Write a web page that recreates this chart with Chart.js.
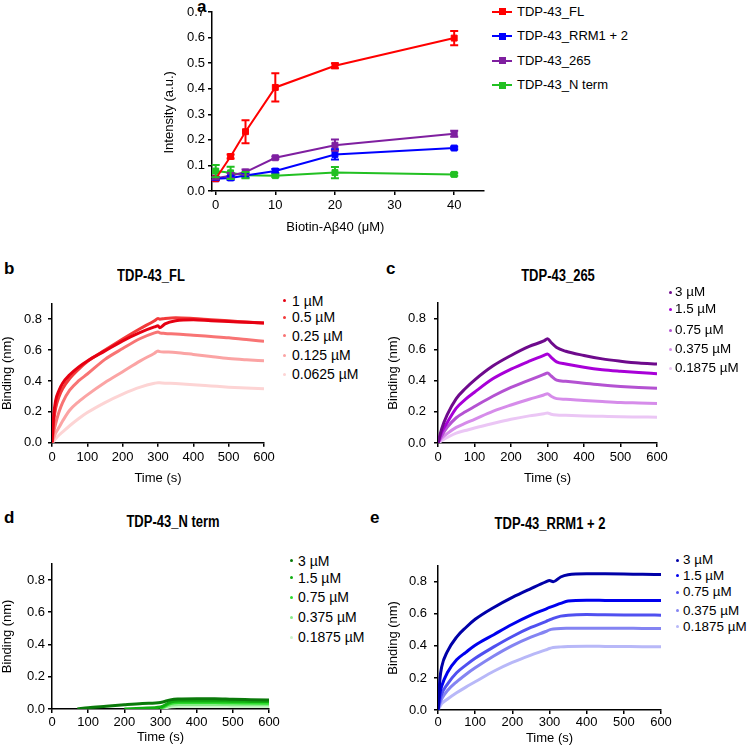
<!DOCTYPE html>
<html>
<head>
<meta charset="utf-8">
<script src="https://cdn.jsdelivr.net/npm/chart.js@4.4.1/dist/chart.umd.min.js"></script>
<style>
  body { margin: 0; background: #fff; }
  #fig { position: relative; width: 748px; height: 752px; overflow: hidden;
         font-family: 'Liberation Sans', Arial, Helvetica, sans-serif; color: #000; }
  #fig canvas { position: absolute; }
  .letter { position: absolute; font-weight: bold; font-size: 17px; line-height: 17px; }
  .ptitle { position: absolute; width: 200px; text-align: center; font-weight: bold;
            font-size: 13px; line-height: 16px; white-space: nowrap; transform: scaleY(1.2); }
  .legtxt { position: absolute; font-size: 14px; line-height: 16px; white-space: nowrap; }
  .legtxt.small { font-size: 13px; }
  .legtxt.mid { font-size: 13.4px; }
  .dot { position: absolute; width: 3px; height: 3px; border-radius: 50%; }
  .lline { position: absolute; width: 20px; height: 2px; }
  .lsq { position: absolute; width: 7px; height: 7px; }
</style>
</head>
<body>
<div id="fig">
  <div class="letter" style="left:197px;top:-2px">a</div>
  <div class="letter" style="left:4px;top:260px">b</div>
  <div class="letter" style="left:386px;top:260px">c</div>
  <div class="letter" style="left:4px;top:509px">d</div>
  <div class="letter" style="left:370px;top:509px">e</div>

  <div class="ptitle" style="left:51px;top:268px">TDP-43_FL</div>
  <div class="ptitle" style="left:458px;top:268px">TDP-43_265</div>
  <div class="ptitle" style="left:73px;top:514px">TDP-43_N term</div>
  <div class="ptitle" style="left:450px;top:516px">TDP-43_RRM1 + 2</div>

  <canvas id="chartA" width="350" height="240" style="left:140px;top:0px"></canvas>
  <canvas id="chartB" width="280" height="200" style="left:0px;top:290px"></canvas>
  <canvas id="chartC" width="290" height="200" style="left:386px;top:287px"></canvas>
  <canvas id="chartD" width="290" height="194" style="left:0px;top:553px"></canvas>
  <canvas id="chartE" width="290" height="195" style="left:386px;top:551px"></canvas>
</div>

<script>
//
// Panel a - pull-down intensity vs Biotin-Abeta40
//
const doses = [0, 2.5, 5, 10, 20, 40];
const doseTicks = [0, 10, 20, 30, 40];
const intensityTicks = [0, 0.1, 0.2, 0.3, 0.4, 0.5, 0.6, 0.7];

const proteinLabels = ['TDP-43_FL', 'TDP-43_RRM1 + 2', 'TDP-43_265', 'TDP-43_N term'];
const proteinColors = ['#ff0000', '#0000ff', '#7f1fa0', '#22c022'];

const intensityFL = [0.048, 0.135, 0.232, 0.405, 0.49, 0.598];
const intensityRRM = [0.048, 0.051, 0.061, 0.078, 0.143, 0.168];
const intensity265 = [0.05, 0.06, 0.074, 0.13, 0.179, 0.224];
const intensityNterm = [0.078, 0.071, 0.062, 0.06, 0.072, 0.065];

const errorFL = [0.006, 0.008, 0.045, 0.055, 0.01, 0.028];
const errorRRM = [0.005, 0.008, 0.008, 0.008, 0.02, 0.005];
const error265 = [0.005, 0.01, 0.01, 0.005, 0.022, 0.012];
const errorNterm = [0.024, 0.024, 0.012, 0.005, 0.022, 0.005];

//
// Panels b-e - binding kinetics
//
const timeTicks = [0, 100, 200, 300, 400, 500, 600];
const bindingTicks = [0, 0.2, 0.4, 0.6, 0.8];

// b: TDP-43_FL
const timesFL = [0, 5, 10, 20, 30, 50, 75, 100, 150, 200, 250, 290, 300, 305, 320, 350, 400, 450, 500, 550, 600];
const concFL = ['1 µM', '0.5 µM', '0.25 µM', '0.125 µM', '0.0625 µM'];
const colorsFL = ['#e60012', '#f23a3a', '#f87474', '#fba4a4', '#fdd4d4'];
const flConc1 = [0, 0.18, 0.27, 0.34, 0.385, 0.44, 0.49, 0.53, 0.595, 0.66, 0.715, 0.75, 0.757, 0.745, 0.77, 0.79, 0.797, 0.79, 0.785, 0.78, 0.775];
const flConc2 = [0, 0.14, 0.22, 0.3, 0.35, 0.415, 0.475, 0.525, 0.6, 0.672, 0.74, 0.79, 0.805, 0.8, 0.805, 0.81, 0.805, 0.797, 0.79, 0.782, 0.775];
const flConc3 = [0, 0.07, 0.12, 0.2, 0.26, 0.34, 0.4, 0.445, 0.54, 0.61, 0.675, 0.712, 0.718, 0.712, 0.708, 0.705, 0.696, 0.688, 0.68, 0.668, 0.658];
const flConc4 = [0, 0.03, 0.06, 0.1, 0.14, 0.21, 0.265, 0.31, 0.39, 0.46, 0.53, 0.58, 0.594, 0.59, 0.588, 0.585, 0.572, 0.558, 0.545, 0.537, 0.531];
const flConc5 = [0, 0.01, 0.025, 0.05, 0.07, 0.11, 0.155, 0.195, 0.26, 0.315, 0.36, 0.385, 0.389, 0.388, 0.386, 0.383, 0.376, 0.368, 0.36, 0.354, 0.35];

// c: TDP-43_265
const times265 = [0, 10, 25, 50, 75, 100, 150, 200, 250, 290, 300, 310, 325, 350, 400, 450, 500, 550, 600];
const conc265 = ['3 µM', '1.5 µM', '0.75 µM', '0.375 µM', '0.1875 µM'];
const colors265 = ['#6e0a8c', '#a800d8', '#b452d2', '#d68cea', '#ebc6f5'];
const c265a = [0, 0.09, 0.18, 0.285, 0.35, 0.404, 0.494, 0.562, 0.62, 0.655, 0.669, 0.645, 0.613, 0.589, 0.562, 0.54, 0.525, 0.513, 0.507];
const c265b = [0, 0.07, 0.13, 0.224, 0.28, 0.326, 0.412, 0.474, 0.525, 0.562, 0.572, 0.55, 0.521, 0.507, 0.486, 0.47, 0.46, 0.452, 0.445];
const c265c = [0, 0.045, 0.1, 0.162, 0.2, 0.234, 0.3, 0.357, 0.404, 0.44, 0.449, 0.43, 0.404, 0.396, 0.384, 0.372, 0.363, 0.356, 0.351];
const c265d = [0, 0.03, 0.06, 0.1, 0.127, 0.152, 0.203, 0.244, 0.281, 0.308, 0.316, 0.3, 0.285, 0.281, 0.273, 0.266, 0.26, 0.257, 0.254];
const c265e = [0, 0.015, 0.035, 0.064, 0.08, 0.096, 0.125, 0.152, 0.174, 0.188, 0.193, 0.185, 0.18, 0.178, 0.174, 0.171, 0.168, 0.167, 0.166];

// d: TDP-43_N term
const timesN = [70, 100, 150, 200, 250, 300, 330, 350, 400, 450, 500, 550, 600];
const concN = ['3 µM', '1.5 µM', '0.75 µM', '0.375 µM', '0.1875 µM'];
const colorsN = ['#0a7a0a', '#10ad10', '#2cdc2c', '#86ec86', '#c8f6c8'];
const nA = [0, 0.008, 0.017, 0.026, 0.034, 0.04, 0.058, 0.062, 0.064, 0.064, 0.06, 0.058, 0.056];
const nB = [null, null, null, 0, 0.005, 0.012, 0.045, 0.05, 0.05, 0.05, 0.048, 0.047, 0.046];
const nC = [null, null, null, null, null, 0.004, 0.035, 0.04, 0.041, 0.04, 0.038, 0.037, 0.036];
const nD = [null, null, null, null, null, 0.002, 0.025, 0.028, 0.028, 0.028, 0.027, 0.026, 0.026];
const nE = [null, null, null, null, null, 0, 0.014, 0.016, 0.017, 0.017, 0.016, 0.015, 0.015];

// e: TDP-43_RRM1 + 2
const timesRRM = [0, 5, 10, 25, 50, 75, 100, 150, 200, 250, 290, 300, 310, 330, 350, 400, 450, 500, 550, 600];
const concRRM = ['3 µM', '1.5 µM', '0.75 µM', '0.375 µM', '0.1875 µM'];
const colorsRRM = ['#0000a8', '#0000ee', '#5050f0', '#8484f2', '#b8b8f8'];
const rA = [0, 0.19, 0.27, 0.364, 0.455, 0.515, 0.566, 0.64, 0.703, 0.758, 0.8, 0.808, 0.8, 0.83, 0.844, 0.85, 0.85, 0.849, 0.847, 0.846];
const rB = [0, 0.1, 0.15, 0.232, 0.313, 0.36, 0.404, 0.47, 0.535, 0.592, 0.63, 0.64, 0.648, 0.665, 0.68, 0.685, 0.684, 0.683, 0.683, 0.683];
const rC = [0, 0.06, 0.1, 0.16, 0.232, 0.28, 0.323, 0.394, 0.459, 0.515, 0.552, 0.562, 0.572, 0.586, 0.592, 0.596, 0.594, 0.593, 0.593, 0.592];
const rD = [0, 0.04, 0.07, 0.12, 0.176, 0.222, 0.263, 0.337, 0.402, 0.455, 0.49, 0.5, 0.505, 0.509, 0.51, 0.511, 0.51, 0.51, 0.509, 0.509];
const rE = [0, 0.02, 0.04, 0.067, 0.107, 0.143, 0.176, 0.242, 0.297, 0.343, 0.375, 0.384, 0.39, 0.394, 0.396, 0.398, 0.397, 0.396, 0.395, 0.394];


Chart.defaults.font.family = "'Liberation Sans', Arial, Helvetica, sans-serif";
Chart.defaults.font.size = 13;
Chart.defaults.color = '#000';

const axisGrid = { drawOnChartArea: false, drawTicks: true, tickLength: 4, color: '#000', lineWidth: 1.5 };
const axisBorder = { color: '#000', width: 1.5 };

// error bars for panel a
const errorBars = {
  id: 'errorBars',
  afterDatasetsDraw(chart) {
    const ctx = chart.ctx;
    const xs = chart.scales.x, ys = chart.scales.y;
    chart.data.datasets.forEach((ds) => {
      if (!ds.errors) return;
      ctx.save();
      ctx.strokeStyle = ds.borderColor;
      ctx.lineWidth = 2;
      ds.data.forEach((p, j) => {
        const e = ds.errors[j];
        const px = xs.getPixelForValue(p.x);
        const top = ys.getPixelForValue(p.y + e);
        const bot = ys.getPixelForValue(p.y - e);
        ctx.beginPath();
        ctx.moveTo(px, top); ctx.lineTo(px, bot);
        ctx.moveTo(px - 4, top); ctx.lineTo(px + 4, top);
        ctx.moveTo(px - 4, bot); ctx.lineTo(px + 4, bot);
        ctx.stroke();
      });
      ctx.restore();
    });
  }
};

const seriesA = [intensityFL, intensityRRM, intensity265, intensityNterm];
const errorsA = [errorFL, errorRRM, error265, errorNterm];

// trailing no-break spaces nudge the centred titles like in the original
const nb = n => '\u00a0'.repeat(n);

new Chart(document.getElementById('chartA'), {
  type: 'line',
  data: {
    datasets: seriesA.map((vals, i) => ({
      label: proteinLabels[i],
      data: doses.map((d, j) => ({ x: d, y: vals[j] })),
      errors: errorsA[i],
      borderColor: proteinColors[i],
      backgroundColor: proteinColors[i],
      borderWidth: 2,
      pointStyle: 'rect',
      pointRadius: 4.2,
      pointBorderWidth: 1,
      tension: 0
    }))
  },
  options: {
    responsive: false,
    animation: false,
    layout: { padding: { top: 12, right: 6, bottom: 0, left: 0 } },
    plugins: { legend: { display: false }, tooltip: { enabled: false } },
    scales: {
      x: {
        type: 'linear', min: -0.62, max: 45,
        afterBuildTicks: s => { s.ticks = doseTicks.map(v => ({ value: v })); },
        afterFit: s => { s.height = 49; },
        grid: axisGrid, border: axisBorder,
        ticks: { padding: 3 },
        title: { display: true, text: 'Biotin-Aβ40 (μM)' + nb(7), padding: { top: 0, bottom: 5 } }
      },
      y: {
        min: 0, max: 0.7,
        afterBuildTicks: s => { s.ticks = intensityTicks.map(v => ({ value: v })); },
        afterFit: s => { s.width = 72; },
        grid: axisGrid, border: axisBorder,
        ticks: { padding: 3, callback: v => v.toFixed(1) },
        title: { display: true, text: 'Intensity (a.u.)' + nb(6), padding: { top: 22, bottom: 0 } }
      }
    }
  },
  plugins: [errorBars]
});

// kinetic panels
function kineticChart(id, times, series, labels, colors, box) {
  return new Chart(document.getElementById(id), {
    type: 'line',
    data: {
      datasets: series.map((vals, i) => ({
        label: labels[i],
        data: times.map((t, j) => ({ x: t, y: vals[j] })),
        borderColor: colors[i],
        borderWidth: 3,
        pointRadius: 0,
        cubicInterpolationMode: 'monotone',
        spanGaps: false
      }))
    },
    options: {
      responsive: false,
      animation: false,
      layout: { padding: { top: box.top, right: box.right, bottom: 0, left: 0 } },
      plugins: { legend: { display: false }, tooltip: { enabled: false } },
      scales: {
        x: {
          type: 'linear', min: 0, max: 600,
          afterBuildTicks: s => { s.ticks = timeTicks.map(v => ({ value: v })); },
          afterFit: s => { s.height = box.xh; },
          grid: axisGrid, border: axisBorder,
          ticks: { padding: box.xpad },
          title: { display: true, text: 'Time (s)', padding: { top: 0, bottom: box.tpad } }
        },
        y: {
          min: 0, max: 0.9,
          afterBuildTicks: s => { s.ticks = bindingTicks.map(v => ({ value: v })); },
          afterFit: s => { s.width = 52; },
          grid: axisGrid, border: axisBorder,
          ticks: { padding: box.ypad, callback: v => v.toFixed(1) },
          title: { display: true, text: 'Binding (nm)', padding: { top: 0, bottom: 0 } }
        }
      }
    }
  });
}

// first dataset is drawn on top
kineticChart('chartB', timesFL, [flConc1, flConc2, flConc3, flConc4, flConc5], concFL, colorsFL,
  { top: 10.7, right: 16, xh: 47.3, xpad: 3, tpad: 4, ypad: 6 });
kineticChart('chartC', times265, [c265a, c265b, c265c, c265d, c265e], conc265, colors265,
  { top: 10, right: 19, xh: 44, xpad: 3, tpad: 1, ypad: 8 });
kineticChart('chartD', timesN, [nA, nB, nC, nD, nE], concN, colorsN,
  { top: 10, right: 21, xh: 38, xpad: 2, tpad: 2, ypad: 3 });
kineticChart('chartE', timesRRM, [rA, rB, rC, rD, rE], concRRM, colorsRRM,
  { top: 10, right: 15, xh: 36, xpad: 1, tpad: 0, ypad: 7 });

// legends
const fig = document.getElementById('fig');
function addEl(cls, left, top, html, color) {
  const el = document.createElement('div');
  el.className = cls;
  el.style.left = left + 'px';
  el.style.top = top + 'px';
  if (html) el.innerHTML = html;
  if (color) el.style.background = color;
  fig.appendChild(el);
}

function dotLegend(dotX, textX, rows, labels, colors, size) {
  labels.forEach((lab, i) => {
    addEl('dot', dotX - 1.5, rows[i] - 1.5, null, colors[i]);
    addEl('legtxt ' + size, textX, rows[i] - 8, lab);
  });
}

const rowsA = [11.7, 36, 60.7, 85];
proteinLabels.forEach((lab, i) => {
  addEl('lline', 492, rowsA[i] - 1, null, proteinColors[i]);
  addEl('lsq', 498.5, rowsA[i] - 3.5, null, proteinColors[i]);
  addEl('legtxt small', 517, rowsA[i] - 8, lab);
});

dotLegend(284.3, 292, [300.7, 317.3, 335.7, 355, 374.3], concFL, colorsFL, '');
dotLegend(670.5, 675, [292, 309, 330, 349, 368], conc265, colors265, 'mid');
dotLegend(291, 298, [560.7, 577.7, 597.3, 617.3, 637.3], concN, colorsN, '');
dotLegend(677, 683, [560, 575.7, 592.3, 610.7, 626.7], concRRM, colorsRRM, 'mid');
</script>
</body>
</html>
